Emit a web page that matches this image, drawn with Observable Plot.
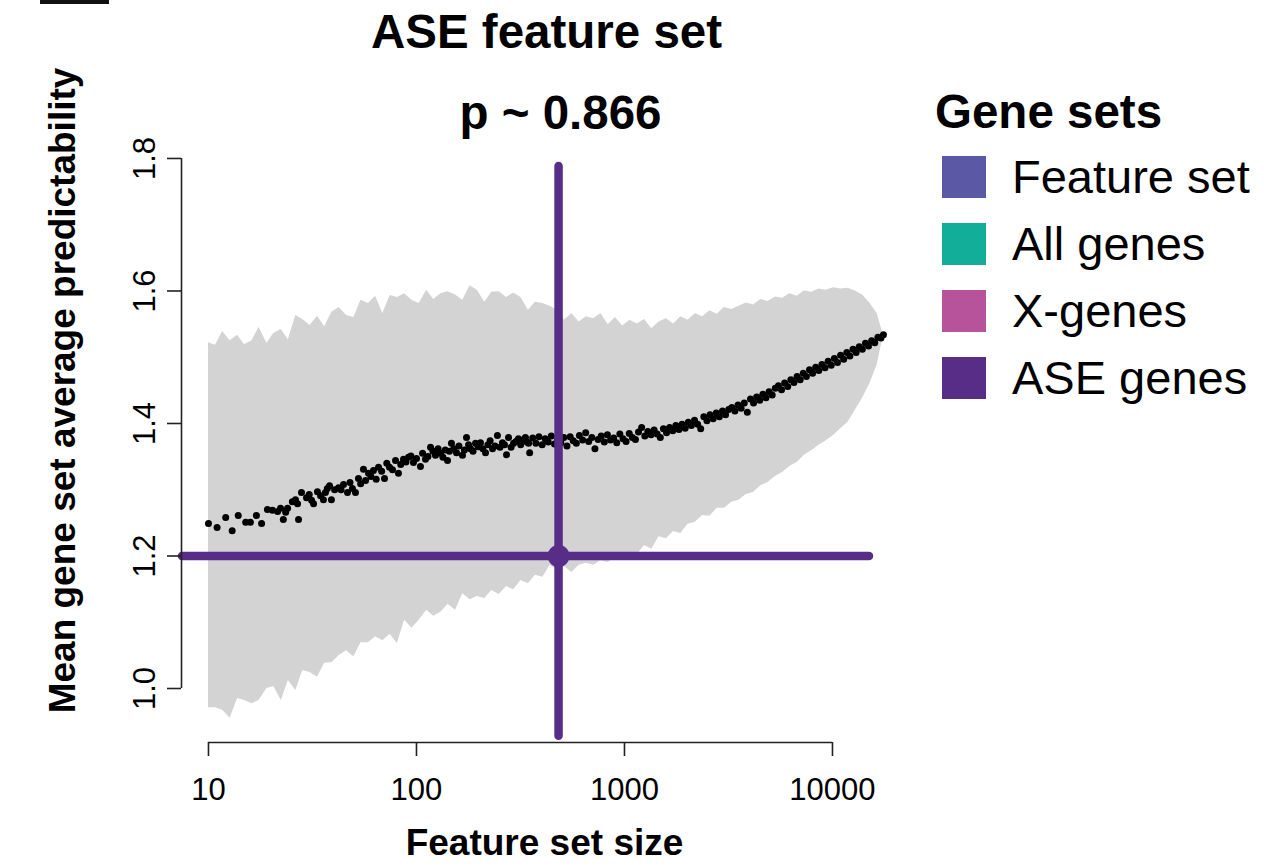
<!DOCTYPE html>
<html>
<head>
<meta charset="utf-8">
<script src="https://cdn.jsdelivr.net/npm/d3@7"></script>
<script src="https://cdn.jsdelivr.net/npm/@observablehq/plot@0.6"></script>
<style>
html,body{margin:0;padding:0;background:#fff;}
#wrap{position:relative;width:1264px;height:867px;overflow:hidden;font-family:"Liberation Sans",Arial,Helvetica,sans-serif;}
#chart{position:absolute;left:0;top:0;}
.t{position:absolute;white-space:nowrap;color:#000;}
.sw{position:absolute;}
</style>
</head>
<body>
<div id="wrap"><div id="chart"></div></div>
<script>
// ---------- data ----------
const titleText = "ASE feature set";
const pText = "p ~ 0.866";
const xLabel = "Feature set size";
const yLabel = "Mean gene set average predictability";

const xTicks = [10, 100, 1000, 10000];
const yTicks = [1.0, 1.2, 1.4, 1.6, 1.8];

const legendTitle = "Gene sets";
const legendLabels = ["Feature set", "All genes", "X-genes", "ASE genes"];
const legendColors = ["#5b59a5", "#12ae99", "#b7539a", "#582d87"];

// ASE gene set: size, mean predictability, and the drawn ranges
const aseSize = 482;
const aseValue = 1.2;
const aseSizeRange = [7.5, 15070];
const aseValueRange = [0.928, 1.788];

// grey envelope of random gene sets
const bandSizes = [10, 10.8, 11.7, 12.7, 13.8, 14.9, 16.2, 17.5, 19.1, 20.6,
  22.4, 24.2, 26.3, 28.4, 30.8, 33.4, 36.2, 39.2, 42.5, 46.1,
  50, 54.1, 58.7, 63.6, 68.9, 74.7, 80.9, 87.7, 95.1, 103,
  112, 121, 131, 142, 154, 167, 181, 196, 213, 230,
  250, 271, 293, 318, 345, 373, 405, 439, 475, 515,
  558, 605, 656, 711, 770, 835, 905, 980, 1062, 1151,
  1248, 1352, 1466, 1589, 1722, 1866, 2022, 2192, 2375, 2574,
  2790, 3024, 3277, 3552, 3850, 4172, 4522, 4901, 5311, 5757,
  6239, 6762, 7328, 7943, 8609, 9330, 10110, 10960, 11880, 12870,
  13950, 15120, 16390, 17580];
const bandUpper = [1.522, 1.518, 1.539, 1.525, 1.533, 1.519, 1.525, 1.545, 1.521, 1.536,
  1.542, 1.526, 1.563, 1.557, 1.548, 1.562, 1.546, 1.568, 1.575, 1.563,
  1.560, 1.586, 1.581, 1.592, 1.566, 1.593, 1.590, 1.596, 1.586, 1.581,
  1.601, 1.587, 1.596, 1.599, 1.594, 1.586, 1.608, 1.601, 1.583, 1.598,
  1.599, 1.590, 1.597, 1.590, 1.571, 1.583, 1.581, 1.577, 1.571, 1.556,
  1.566, 1.553, 1.561, 1.558, 1.566, 1.549, 1.560, 1.547, 1.556, 1.550,
  1.557, 1.543, 1.553, 1.558, 1.550, 1.561, 1.556, 1.566, 1.561, 1.570,
  1.565, 1.575, 1.572, 1.577, 1.582, 1.579, 1.587, 1.584, 1.591, 1.589,
  1.596, 1.592, 1.600, 1.598, 1.603, 1.601, 1.605, 1.603, 1.604, 1.600,
  1.594, 1.582, 1.566, 1.533];
const bandLower = [0.971, 0.971, 0.967, 0.955, 0.985, 0.982, 0.977, 0.982, 1.000, 1.003,
  0.982, 1.012, 0.997, 1.027, 1.024, 1.017, 1.038, 1.039, 1.050, 1.057,
  1.048, 1.069, 1.069, 1.078, 1.072, 1.082, 1.068, 1.103, 1.091, 1.103,
  1.118, 1.109, 1.115, 1.127, 1.118, 1.143, 1.134, 1.139, 1.136, 1.148,
  1.142, 1.154, 1.149, 1.163, 1.158, 1.171, 1.168, 1.186, 1.178, 1.184,
  1.175, 1.186, 1.189, 1.186, 1.193, 1.190, 1.199, 1.196, 1.205, 1.202,
  1.216, 1.210, 1.229, 1.226, 1.237, 1.234, 1.248, 1.251, 1.261, 1.260,
  1.272, 1.272, 1.281, 1.284, 1.293, 1.296, 1.306, 1.311, 1.320, 1.326,
  1.335, 1.341, 1.352, 1.359, 1.367, 1.374, 1.382, 1.392, 1.402, 1.420,
  1.438, 1.460, 1.488, 1.533];

// black points: mean predictability of random gene sets by size
const pointSizes = [10, 11, 12.1, 13, 13.9, 15.1, 15.9, 17, 18, 19.2,
  20.3, 21.5, 22.2, 22.9, 23.5, 24, 25.3, 26.2, 26.8, 27.1,
  28, 29.6, 30.5, 31.3, 32, 33.4, 34.6, 35.7, 36.5, 37.3,
  38.2, 39, 40.4, 42.2, 43.4, 44.6, 46.6, 47.9, 49.2, 50.9,
  52.6, 53.9, 55.6, 56.9, 58.8, 60.4, 62.1, 64, 65.7, 68,
  70.2, 72, 74.2, 76.7, 79.3, 81.9, 84, 86.6, 89, 91.5,
  94, 96.7, 100, 104.5, 107, 110.5, 113.5, 116.8, 120, 123.4,
  127, 130.4, 134, 137.5, 141, 144, 147.3, 151, 155.7, 160,
  166.4, 170, 174, 178, 181.8, 187, 192.2, 197.5, 203.1, 208.5,
  214.7, 220.5, 226, 232, 238.5, 245, 252, 259, 265, 271,
  277, 285, 293, 301, 309, 317, 325, 334, 340, 346,
  350, 362, 375, 388, 402, 416, 430, 445, 461, 477,
  494, 511, 529, 548, 567, 587, 607, 629, 651, 673,
  697, 721, 747, 773, 800, 828, 857, 887, 918, 950,
  984, 1018, 1054, 1091, 1129, 1168, 1209, 1252, 1295, 1341,
  1388, 1436, 1487, 1539, 1593, 1648, 1706, 1766, 1828, 1892,
  1958, 2026, 2097, 2171, 2247, 2325, 2407, 2491, 2578, 2669,
  2762, 2859, 2959, 3062, 3170, 3281, 3395, 3514, 3637, 3765,
  3896, 4033, 4174, 4320, 4471, 4628, 4790, 4957, 5131, 5310,
  5496, 5689, 5888, 6094, 6307, 6528, 6757, 6993, 7238, 7491,
  7754, 8025, 8306, 8597, 8897, 9209, 9531, 9865, 10210, 10568,
  10937, 11320, 11717, 12127, 12551, 12990, 13445, 13916, 14403, 14907,
  15429, 15969, 16528, 17106, 17580];
const pointValues = [1.249, 1.243, 1.258, 1.238, 1.261, 1.251, 1.251, 1.261, 1.249, 1.270,
  1.269, 1.267, 1.272, 1.255, 1.266, 1.272, 1.282, 1.285, 1.279, 1.255,
  1.296, 1.288, 1.293, 1.284, 1.279, 1.297, 1.291, 1.285, 1.296, 1.302,
  1.306, 1.285, 1.300, 1.303, 1.300, 1.308, 1.296, 1.311, 1.302, 1.296,
  1.317, 1.309, 1.331, 1.314, 1.325, 1.320, 1.329, 1.316, 1.334, 1.328,
  1.317, 1.340, 1.334, 1.330, 1.344, 1.325, 1.338, 1.346, 1.342, 1.349,
  1.351, 1.341, 1.347, 1.335, 1.355, 1.346, 1.350, 1.364, 1.358, 1.352,
  1.362, 1.355, 1.349, 1.360, 1.344, 1.358, 1.370, 1.362, 1.356, 1.366,
  1.352, 1.360, 1.379, 1.368, 1.362, 1.358, 1.370, 1.365, 1.371, 1.362,
  1.356, 1.368, 1.374, 1.362, 1.366, 1.382, 1.364, 1.371, 1.368, 1.353,
  1.379, 1.364, 1.370, 1.373, 1.377, 1.368, 1.375, 1.379, 1.372, 1.370,
  1.356, 1.378, 1.370, 1.380, 1.368, 1.377, 1.372, 1.381, 1.369, 1.376,
  1.371, 1.379, 1.366, 1.380, 1.374, 1.370, 1.382, 1.375, 1.386, 1.373,
  1.379, 1.362, 1.376, 1.381, 1.372, 1.383, 1.375, 1.378, 1.371, 1.384,
  1.377, 1.373, 1.385, 1.379, 1.376, 1.387, 1.394, 1.381, 1.388, 1.383,
  1.390, 1.384, 1.379, 1.392, 1.386, 1.394, 1.389, 1.397, 1.391, 1.399,
  1.393, 1.402, 1.397, 1.405, 1.399, 1.392, 1.410, 1.404, 1.413, 1.407,
  1.416, 1.410, 1.419, 1.413, 1.421, 1.424, 1.419, 1.428, 1.423, 1.431,
  1.417, 1.437, 1.431, 1.440, 1.435, 1.444, 1.439, 1.448, 1.443, 1.453,
  1.457, 1.451, 1.461, 1.456, 1.466, 1.462, 1.471, 1.466, 1.476, 1.471,
  1.481, 1.476, 1.485, 1.480, 1.489, 1.484, 1.494, 1.488, 1.498, 1.492,
  1.503, 1.497, 1.507, 1.502, 1.512, 1.507, 1.516, 1.512, 1.521, 1.517,
  1.525, 1.522, 1.530, 1.529, 1.534];

// ---------- chart ----------
const FONT = '"Liberation Sans", Arial, Helvetica, sans-serif';
const purple = legendColors[3];
const xDomain = [7.418, 22944];
const yDomain = [0.9185, 1.8875];

const band = bandSizes.map((s, i) => ({size: s, lo: bandLower[i], hi: bandUpper[i]}));
const points = pointSizes.map((s, i) => ({size: s, value: pointValues[i]}));
const ase = [{size: aseSize, value: aseValue}];

const chart = Plot.plot({
  width: 1264,
  height: 867,
  marginLeft: 181,
  marginRight: 357,
  marginTop: 100,
  marginBottom: 125,
  style: {fontFamily: FONT, fontSize: "31px", background: "white", color: "black"},
  x: {type: "log", domain: xDomain, axis: null},
  y: {domain: yDomain, axis: null},
  marks: [
    Plot.areaY(band, {x: "size", y1: "lo", y2: "hi", fill: "#d3d3d3"}),
    Plot.dot(points, {x: "size", y: "value", r: 3.5, fill: "black", stroke: "none"}),
    Plot.ruleY(ase, {y: "value", x1: aseSizeRange[0], x2: aseSizeRange[1], stroke: purple, strokeWidth: 8.5, strokeLinecap: "round"}),
    Plot.ruleX(ase, {x: "size", y1: aseValueRange[0], y2: aseValueRange[1], stroke: purple, strokeWidth: 8.5, strokeLinecap: "round"}),
    Plot.dot(ase, {x: "size", y: "value", r: 11, fill: purple, stroke: "none"}),
    // axis lines (R style, spanning first to last tick)
    Plot.ruleX([xDomain[0]], {x: d => d, y1: yTicks[0], y2: yTicks[yTicks.length - 1], stroke: "#222", strokeWidth: 1.6}),
    Plot.ruleY([yDomain[0]], {y: d => d, x1: xTicks[0], x2: xTicks[xTicks.length - 1], stroke: "#222", strokeWidth: 1.6}),
    Plot.axisX({ticks: xTicks, tickSize: 14, strokeWidth: 1.6, stroke: "#222", fill: "none", label: null}),
    Plot.axisY({ticks: yTicks, tickSize: 14, strokeWidth: 1.6, stroke: "#222", fill: "none", label: null}),
    Plot.text(xTicks, {x: d => d, text: d => String(d), frameAnchor: "bottom", dy: 48, lineAnchor: "middle", fontSize: 31, fill: "black"}),
    Plot.text(yTicks, {y: d => d, text: d => d.toFixed(1), frameAnchor: "left", dx: -36, rotate: -90, textAnchor: "middle", lineAnchor: "middle", fontSize: 31, fill: "black"}),
    Plot.text([xLabel], {text: d => d, frameAnchor: "bottom", dy: 101, lineAnchor: "middle", fontSize: 37, fontWeight: "bold", fill: "black"}),
    Plot.text([yLabel], {text: d => d, frameAnchor: "left", dx: -118, dy: -31, rotate: -90, textAnchor: "middle", lineAnchor: "middle", fontSize: 37, fontWeight: "bold", fill: "black"}),
    Plot.text([titleText], {text: d => d, frameAnchor: "top", dx: 2, dy: -67.5, lineAnchor: "middle", fontSize: 47.5, fontWeight: "bold", fill: "black"}),
    Plot.text([pText], {text: d => d, frameAnchor: "top", dx: 16, dy: 13.5, lineAnchor: "middle", fontSize: 47.5, fontWeight: "bold", fill: "black"})
  ]
});
document.getElementById("chart").appendChild(chart);

// ---------- legend (HTML, right side) ----------
const wrap = document.getElementById("wrap");
const lt = document.createElement("div");
lt.className = "t";
lt.style.cssText = "left:935px;top:81.5px;line-height:60px;font-size:47.5px;font-weight:bold;";
lt.textContent = legendTitle;
wrap.appendChild(lt);
legendLabels.forEach((lab, i) => {
  const cy = 177 + i * 67;
  const sw = document.createElement("div");
  sw.className = "sw";
  sw.style.cssText = `left:942px;top:${cy - 21}px;width:44px;height:42px;background:${legendColors[i]};`;
  wrap.appendChild(sw);
  const tx = document.createElement("div");
  tx.className = "t";
  tx.style.cssText = `left:1012px;top:${cy - 30}px;line-height:60px;font-size:47px;`;
  tx.textContent = lab;
  wrap.appendChild(tx);
});
// small cropped black bar at the very top-left of the original figure
const bar = document.createElement("div");
bar.style.cssText = "position:absolute;left:40px;top:0;width:69px;height:4px;background:#111;";
wrap.appendChild(bar);
</script>
</body>
</html>
